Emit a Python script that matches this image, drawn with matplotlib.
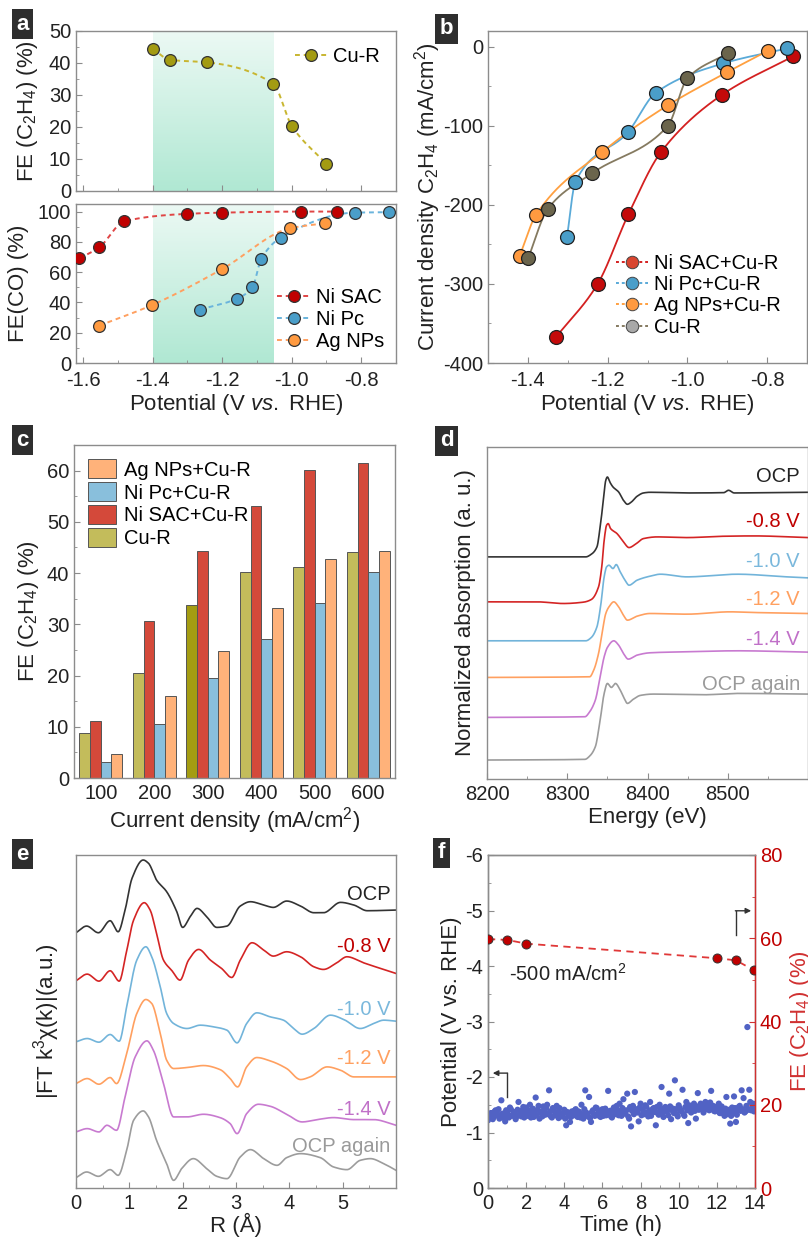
import numpy as np
import matplotlib
matplotlib.use("Agg")
import matplotlib.pyplot as plt
from matplotlib.lines import Line2D
from matplotlib.patches import Patch
from matplotlib.colors import LinearSegmentedColormap
from matplotlib.ticker import MultipleLocator

W, H = 808, 1241

# ── panel a: FE vs potential ────────────────────────────────────────────
a_cur_x = [-1.40, -1.35, -1.243, -1.053, -1.00, -0.90]
a_cur_y = [44.5, 41.0, 40.2, 33.5, 20.4, 8.5]
a_sac_x = [-1.61, -1.553, -1.481, -1.30, -1.20, -0.974, -0.869]
a_sac_y = [69.1, 76.4, 93.6, 98.5, 99.3, 100.0, 100.0]
a_pc_x = [-1.263, -1.158, -1.113, -1.087, -1.031, -0.819, -0.72]
a_pc_y = [35.3, 42.4, 49.9, 68.9, 82.8, 99.3, 99.6]
a_ag_x = [-1.553, -1.402, -1.20, -1.004, -0.903]
a_ag_y = [24.7, 38.2, 62.0, 89.0, 92.3]
shade_range = [-1.40, -1.053]

# ── panel b: partial current density of C2H4 ────────────────────────────
b_sac_x = [-1.329, -1.225, -1.148, -1.066, -0.914, -0.735]
b_sac_y = [-367, -300, -212, -133, -61, -12]
b_pc_x = [-1.302, -1.281, -1.149, -1.079, -0.910, -0.749]
b_pc_y = [-241, -171, -108, -58, -21, -2]
b_ag_x = [-1.421, -1.380, -1.214, -1.049, -0.900, -0.798]
b_ag_y = [-265, -213, -133, -74, -32, -5]
b_cu_x = [-1.399, -1.350, -1.239, -1.049, -1.000, -0.898]
b_cu_y = [-267, -205, -160, -100, -40, -8]

# ── panel c: FE(C2H4) vs current density ────────────────────────────────
c_labels = ["100", "200", "300", "400", "500", "600"]
c_cu = [8.7, 20.5, 33.7, 40.2, 41.1, 44.2]
c_sac = [11.2, 30.7, 44.4, 53.0, 60.2, 61.4]
c_pc = [3.1, 10.5, 19.6, 27.1, 34.2, 40.2]
c_ag = [4.6, 16.0, 24.7, 33.1, 42.7, 44.4]

# ── panel d: XANES (offset curves, a.u.) ────────────────────────────────
d_names = ["OCP", "-0.8 V", "-1.0 V", "-1.2 V", "-1.4 V", "OCP again"]
d_E = [
    [8200, 8323, 8330, 8337, 8341, 8345, 8348, 8350, 8353, 8357, 8364, 8370,
     8375, 8380, 8387, 8395, 8403, 8450, 8495, 8501, 8508, 8550, 8600],
    [8200, 8262, 8295, 8320, 8330, 8339, 8343, 8346, 8349, 8351, 8354, 8362,
     8370, 8377, 8385, 8395, 8412, 8449, 8495, 8532, 8600],
    [8200, 8323, 8330, 8337, 8342, 8346, 8349, 8352, 8357, 8361, 8366, 8372,
     8377, 8387, 8403, 8416, 8449, 8512, 8574, 8600],
    [8200, 8328, 8333, 8339, 8344, 8348, 8352, 8358, 8364, 8370, 8375, 8387,
     8403, 8449, 8503, 8532, 8600],
    [8200, 8322, 8328, 8335, 8341, 8346, 8350, 8358, 8364, 8370, 8376, 8387,
     8403, 8449, 8512, 8600],
    [8200, 8322, 8328, 8335, 8341, 8346, 8350, 8355, 8360, 8366, 8371, 8375,
     8382, 8391, 8407, 8470, 8512, 8600],
]
d_mu = [
    [6.67, 6.67, 6.75, 6.97, 7.57, 8.37, 8.97, 9.07, 8.92, 8.77, 8.62, 8.37,
     8.25, 8.32, 8.49, 8.59, 8.61, 8.59, 8.60, 8.67, 8.59, 8.60, 8.61],
    [5.32, 5.32, 5.27, 5.31, 5.39, 5.77, 6.37, 7.17, 7.62, 7.67, 7.52, 7.37,
     7.12, 6.95, 7.05, 7.22, 7.27, 7.25, 7.29, 7.30, 7.25],
    [4.15, 4.15, 4.25, 4.57, 5.27, 6.07, 6.37, 6.42, 6.32, 6.44, 6.22, 5.97,
     5.82, 5.97, 6.09, 6.15, 6.07, 6.15, 6.07, 6.04],
    [3.05, 3.07, 3.27, 3.77, 4.47, 4.97, 5.17, 5.32, 5.17, 4.92, 4.77, 4.89,
     4.97, 4.95, 5.02, 5.00, 4.97],
    [1.85, 1.87, 2.02, 2.37, 3.07, 3.67, 3.95, 4.15, 4.02, 3.77, 3.60, 3.72,
     3.79, 3.82, 3.85, 3.81],
    [0.57, 0.59, 0.69, 0.97, 1.77, 2.57, 2.87, 2.75, 2.87, 2.67, 2.42, 2.27,
     2.39, 2.51, 2.55, 2.53, 2.57, 2.55],
]

# ── panel e: FT-EXAFS (offset curves, a.u.) ─────────────────────────────
e_R = [
    [0, 0.20, 0.42, 0.64, 0.79, 0.92, 1.05, 1.26, 1.36, 1.51, 1.70, 1.89, 2.00,
     2.14, 2.27, 2.45, 2.64, 2.83, 3.08, 3.27, 3.52, 3.70, 3.95, 4.21, 4.46,
     4.64, 4.96, 5.21, 5.46, 6.0],
    [0, 0.21, 0.43, 0.64, 0.81, 0.94, 1.08, 1.28, 1.39, 1.51, 1.64, 1.80, 1.95,
     2.11, 2.30, 2.52, 2.73, 2.92, 3.08, 3.30, 3.52, 3.70, 3.95, 4.21, 4.46,
     4.64, 4.89, 5.08, 5.39, 6.0],
    [0, 0.21, 0.43, 0.64, 0.81, 0.95, 1.14, 1.31, 1.42, 1.58, 1.70, 1.83, 2.08,
     2.33, 2.58, 2.83, 3.02, 3.20, 3.39, 3.64, 3.89, 4.08, 4.24, 4.46, 4.77,
     5.02, 5.33, 5.58, 5.77, 6.0],
    [0, 0.21, 0.43, 0.64, 0.76, 0.95, 1.14, 1.31, 1.42, 1.58, 1.70, 1.83, 2.08,
     2.39, 2.70, 2.89, 3.03, 3.20, 3.39, 3.64, 3.95, 4.21, 4.39, 4.71, 4.96,
     5.21, 6.0],
    [0, 0.21, 0.43, 0.58, 0.76, 0.92, 1.11, 1.33, 1.45, 1.64, 1.83, 2.08, 2.39,
     2.70, 2.89, 3.02, 3.20, 3.42, 3.64, 3.95, 4.24, 4.52, 4.83, 5.21, 5.58,
     6.0],
    [0, 0.20, 0.42, 0.64, 0.79, 0.95, 1.08, 1.26, 1.36, 1.51, 1.70, 1.83, 1.98,
     2.20, 2.45, 2.64, 2.83, 3.08, 3.27, 3.52, 3.77, 3.95, 4.21, 4.58, 4.83,
     5.08, 5.33, 5.52, 5.77, 6.0],
]
e_ft = [
    [7.65, 7.85, 7.65, 8.01, 7.68, 8.33, 9.28, 9.83, 9.73, 9.23, 8.88, 8.28,
     7.81, 8.13, 8.38, 8.13, 7.81, 7.85, 8.45, 8.58, 8.48, 8.41, 8.60, 8.45,
     8.25, 8.25, 8.56, 8.48, 8.31, 8.33],
    [6.21, 6.41, 6.20, 6.51, 6.20, 7.03, 8.03, 8.55, 8.33, 7.63, 6.83, 6.51,
     6.23, 6.83, 7.15, 6.83, 6.58, 6.31, 6.83, 7.35, 7.13, 6.95, 7.08, 6.93,
     6.63, 6.55, 6.75, 6.93, 6.75, 6.43],
    [4.38, 4.48, 4.37, 4.60, 4.40, 5.43, 6.83, 7.23, 6.93, 6.03, 5.23, 4.93,
     4.78, 4.88, 4.83, 4.73, 4.35, 4.93, 5.25, 5.13, 5.03, 4.78, 4.61, 4.78,
     5.18, 5.05, 4.78, 4.93, 5.03, 5.00],
    [3.13, 3.28, 3.11, 3.31, 3.13, 4.03, 5.23, 5.65, 5.53, 4.63, 3.83, 3.58,
     3.61, 3.67, 3.55, 3.28, 3.03, 3.63, 3.91, 3.81, 3.58, 3.25, 3.33, 3.63,
     3.53, 3.33, 3.33],
    [1.68, 1.78, 1.68, 1.88, 1.73, 2.73, 3.93, 4.41, 4.13, 3.13, 2.13, 2.13,
     2.21, 2.11, 1.93, 1.63, 2.23, 2.51, 2.45, 2.21, 1.98, 2.05, 2.11, 2.05,
     2.05, 1.88],
    [0.31, 0.48, 0.35, 0.55, 0.38, 1.13, 2.03, 2.31, 2.13, 1.43, 0.73, 0.23,
     0.58, 0.88, 0.58, 0.35, 0.28, 0.93, 1.15, 0.88, 0.68, 0.91, 1.03, 0.91,
     0.63, 0.55, 0.83, 0.88, 0.73, 0.53],
]

# ── panel f: stability ──────────────────────────────────────────────────
f_fe_t = [0.0, 1.01, 2.01, 11.99, 13.0, 13.95]
f_fe = [59.8, 59.6, 58.7, 55.2, 54.7, 52.3]
# potential, one reading every 0.1 h
f_pot_a = [
    -1.22, -1.30, -1.35, -1.28, -1.40, -1.33, -1.25, -1.58, -1.30, -1.20,
    -1.38, -1.27, -1.42, -1.31, -1.36, -1.29, -1.55, -1.34, -1.40, -1.27,
    -1.45, -1.33, -1.50, -1.36, -1.28, -1.63, -1.41, -1.25, -1.38, -1.47,
    -1.32, -1.50, -1.76, -1.29, -1.44, -1.37, -1.48, -1.26, -1.35, -1.30,
    -1.41, -1.13, -1.34, -1.19, -1.38, -1.31, -1.42, -1.28, -1.36, -1.50,
    -1.25, -1.76, -1.33, -1.64, -1.19, -1.40, -1.30, -1.44, -1.36, -1.28,
    -1.42, -1.35, -1.31, -1.75, -1.39, -1.27, -1.45, -1.33, -1.40, -1.52,
    -1.30, -1.60, -1.36, -1.70, -1.25, -1.11, -1.48, -1.73, -1.38, -1.20,
    -1.52, -1.42, -1.33, -1.47, -1.29, -1.55, -1.37, -1.44, -1.13, -1.35,
    -1.50, -1.82, -1.28, -1.46, -1.39, -1.70, -1.24, -1.43, -1.94, -1.33,
    -1.49, -1.40, -1.77, -1.30, -1.55, -1.17, -1.45, -1.38, -1.52, -1.25,
    -1.71, -1.42, -1.50, -1.36, -1.55, -1.46, -1.40, -1.75, -1.48, -1.38,
    -1.44, -1.52, -1.35, -1.41, -1.30, -1.64, -1.37, -1.16, -1.45, -1.65,
    -1.19, -1.40, -1.48, -1.76, -1.62, -1.38, -2.90, -1.77, -1.40, -1.52,
]
# potential, readings in between (t + 0.05 h)
f_pot_b = [
    -1.28, -1.35, -1.24, -1.38, -1.31, -1.42, -1.29, -1.34, -1.26, -1.40,
    -1.33, -1.45, -1.30, -1.37, -1.24, -1.41, -1.32, -1.29, -1.46, -1.35,
    -1.30, -1.39, -1.27, -1.43, -1.34, -1.31, -1.48, -1.36, -1.29, -1.40,
    -1.45, -1.33, -1.38, -1.27, -1.42, -1.31, -1.36, -1.44, -1.29, -1.34,
    -1.25, -1.37, -1.30, -1.28, -1.35, -1.40, -1.32, -1.38, -1.27, -1.33,
    -1.42, -1.36, -1.29, -1.26, -1.37, -1.33, -1.45, -1.31, -1.39, -1.35,
    -1.30, -1.43, -1.38, -1.33, -1.29, -1.41, -1.36, -1.48, -1.31, -1.37,
    -1.44, -1.34, -1.40, -1.29, -1.46, -1.39, -1.33, -1.42, -1.36, -1.45,
    -1.31, -1.38, -1.49, -1.35, -1.40, -1.30, -1.43, -1.37, -1.46, -1.32,
    -1.41, -1.36, -1.44, -1.38, -1.31, -1.47, -1.40, -1.35, -1.42, -1.29,
    -1.44, -1.38, -1.33, -1.46, -1.40, -1.49, -1.36, -1.43, -1.39, -1.47,
    -1.41, -1.52, -1.45, -1.50, -1.42, -1.48, -1.54, -1.44, -1.39, -1.46,
    -1.40, -1.35, -1.47, -1.38, -1.43, -1.33, -1.41, -1.30, -1.37, -1.44,
    -1.32, -1.46, -1.39, -1.42, -1.36, -1.48, -1.41, -1.55, -1.45, -1.38,
]
f_t_a = np.arange(len(f_pot_a)) * 0.1
f_t_b = np.arange(len(f_pot_b)) * 0.1 + 0.05

# ── style ───────────────────────────────────────────────────────────────
SPINE = "#8c8c8c"
TXT = "#222222"
plt.rcParams.update({
    "font.family": ["Liberation Sans", "DejaVu Sans"],
    "font.size": 14.5,
    "axes.unicode_minus": False,
    "axes.edgecolor": SPINE,
    "axes.linewidth": 1.0,
    "axes.labelsize": 16,
    "axes.labelcolor": TXT,
    "xtick.direction": "in", "ytick.direction": "in",
    "xtick.color": SPINE, "ytick.color": SPINE,
    "xtick.labelcolor": TXT, "ytick.labelcolor": TXT,
    "xtick.labelsize": 14.5, "ytick.labelsize": 14.5,
    "xtick.major.size": 4, "ytick.major.size": 4,
    "xtick.minor.size": 2.5, "ytick.minor.size": 2.5,
    "xtick.major.pad": 4.5,
    "legend.fontsize": 14.5,
    "legend.frameon": False,
    "mathtext.fontset": "custom",
    "mathtext.rm": "Liberation Sans",
    "mathtext.it": "Liberation Sans:italic",
    "mathtext.default": "regular",
})


def pchip(x, y, n=300):
    x = np.asarray(x, float); y = np.asarray(y, float)
    h = np.diff(x); d = np.diff(y) / h
    m = np.zeros_like(y)
    for k in range(1, len(x) - 1):
        if d[k - 1] * d[k] > 0:
            w1 = 2 * h[k] + h[k - 1]; w2 = h[k] + 2 * h[k - 1]
            m[k] = (w1 + w2) / (w1 / d[k - 1] + w2 / d[k])
    m[0] = d[0]; m[-1] = d[-1]
    xs = np.linspace(x[0], x[-1], n)
    i = np.clip(np.searchsorted(x, xs) - 1, 0, len(h) - 1)
    t = (xs - x[i]) / h[i]
    ys = ((2*t**3 - 3*t**2 + 1) * y[i] + (t**3 - 2*t**2 + t) * h[i] * m[i]
          + (-2*t**3 + 3*t**2) * y[i + 1] + (t**3 - t**2) * h[i] * m[i + 1])
    return xs, ys


def add_ax(fig, x0, y0, x1, y1):
    return fig.add_axes([x0 / W, 1 - y1 / H, (x1 - x0) / W, (y1 - y0) / H])


def panel_tag(fig, x, y, s):
    fig.text(x / W, 1 - y / H, s, color="white", weight="bold", fontsize=16,
             ha="center", va="center",
             bbox=dict(boxstyle="square,pad=0.2", fc="#2e2e2e", ec="none"))


def shade(ax, x0, x1, y0, y1):
    cmap = LinearSegmentedColormap.from_list("sh", ["#b0e8d3", "#ecf9f4"])
    grad = np.linspace(0, 1, 100).reshape(-1, 1)
    ax.imshow(grad, extent=[x0, x1, y0, y1], origin="lower", aspect="auto",
              cmap=cmap, zorder=0)


fig = plt.figure(figsize=(W / 100, H / 100), dpi=100)

# ── a ───────────────────────────────────────────────────────────────────
CU_A, SAC_A, PC_A, AG_A = "#a39b12", "#c00000", "#4a9ec9", "#ff9a40"
axa1 = add_ax(fig, 76, 31, 396, 191)
axa2 = add_ax(fig, 76, 204, 396, 363)
shade(axa1, *shade_range, 0, 50)
shade(axa2, *shade_range, 0, 105)
mk = dict(marker="o", ms=8.5, mec="#333", mew=0.9, ls="none", zorder=3)
for ax, xs, ys, fc, lc, lab in [
        (axa1, a_cur_x, a_cur_y, CU_A, "#c8b630", "Cu-R"),
        (axa2, a_sac_x, a_sac_y, SAC_A, "#e04545", "Ni SAC"),
        (axa2, a_pc_x, a_pc_y, PC_A, "#6ab4dc", "Ni Pc"),
        (axa2, a_ag_x, a_ag_y, AG_A, "#ffa060", "Ag NPs")]:
    sx, sy = pchip(xs, ys)
    ax.plot(sx, sy, color=lc, ls=(0, (2.5, 2)), lw=1.4, zorder=2)
    ax.plot(xs, ys, mfc=fc, **mk)
    ax.plot([], [], color=lc, ls=(0, (2.5, 2)), lw=1.4, marker="o", ms=8.5,
            mfc=fc, mec="#333", mew=0.9, label=lab)
axa1.set_ylim(0, 50)
axa2.set_ylim(0, 105)
for ax in (axa1, axa2):
    ax.set_xlim(-1.62, -0.70)
    ax.xaxis.set_major_locator(MultipleLocator(0.2))
    ax.xaxis.set_minor_locator(MultipleLocator(0.1))
    ax.tick_params(top=False, right=False)
axa1.yaxis.set_major_locator(MultipleLocator(10))
axa1.yaxis.set_minor_locator(MultipleLocator(5))
axa2.yaxis.set_major_locator(MultipleLocator(20))
axa2.yaxis.set_minor_locator(MultipleLocator(10))
axa1.tick_params(axis="x", which="both", labelbottom=False)
axa2.tick_params(axis="x", pad=6)
axa1.set_ylabel("FE (C$_2$H$_4$) (%)", labelpad=6)
axa2.set_ylabel("FE(CO) (%)", labelpad=6)
axa2.set_xlabel("Potential (V $\\mathit{vs.}$ RHE)", labelpad=1)
axa1.legend(loc="upper right", handlelength=1.6, handletextpad=0.3,
            borderaxespad=0.4)
axa2.legend(loc="lower right", handlelength=1.6, handletextpad=0.3,
            labelspacing=0.15, borderaxespad=0.2)

# ── b ───────────────────────────────────────────────────────────────────
axb = add_ax(fig, 488, 31, 807, 363)
b_sets = [
    (b_sac_x, b_sac_y, "#c40a0a", "#d42020", "#d9452f", "Ni SAC+Cu-R"),
    (b_pc_x, b_pc_y, "#4a9ec9", "#5aaad8", "#4a9ec9", "Ni Pc+Cu-R"),
    (b_ag_x, b_ag_y, "#ff9a40", "#ffa040", "#ff9a40", "Ag NPs+Cu-R"),
    (b_cu_x, b_cu_y, "#6b654c", "#857a60", "#a8a8a8", "Cu-R"),
]
handles = []
for xs, ys, fc, lc, legc, lab in b_sets:
    sx, sy = pchip(xs, ys)
    axb.plot(sx, sy, color=lc, lw=1.3, zorder=2)
    axb.plot(xs, ys, marker="o", ms=10, mfc=fc, mec="#222", mew=0.9,
             ls="none", zorder=3)
    handles.append(Line2D([], [], color=lc, ls=(0, (1.5, 1.5)), lw=1.4,
                          marker="o", ms=9, mfc=legc, mec="#444", mew=0.7,
                          label=lab))
axb.set_xlim(-1.5, -0.7)
axb.set_ylim(-400, 20)
axb.xaxis.set_major_locator(MultipleLocator(0.2))
axb.xaxis.set_minor_locator(MultipleLocator(0.1))
axb.yaxis.set_major_locator(MultipleLocator(100))
axb.yaxis.set_minor_locator(MultipleLocator(50))
axb.tick_params(axis="x", pad=6)
axb.set_xlabel("Potential (V $\\mathit{vs.}$ RHE)", labelpad=1)
axb.set_ylabel("Current density C$_2$H$_4$ (mA/cm$^2$)", labelpad=0)
axb.legend(handles=handles, loc="lower right", handlelength=1.6,
           handletextpad=0.3, labelspacing=0.12, borderaxespad=0.9)

# ── c ───────────────────────────────────────────────────────────────────
axc = add_ax(fig, 74, 445, 395, 778)
xi = np.arange(len(c_labels))
bw = 0.2
cu_cols = ["#c3bc5b", "#c3bc5b", "#a49c12", "#c3bc5b", "#c3bc5b", "#c3bc5b"]
bar_kw = dict(width=bw, edgecolor="#555", linewidth=0.7)
axc.bar(xi - 1.5 * bw, c_cu, color=cu_cols, **bar_kw)
axc.bar(xi - 0.5 * bw, c_sac, color="#d4493a", **bar_kw)
axc.bar(xi + 0.5 * bw, c_pc, color="#89bfdc", **bar_kw)
axc.bar(xi + 1.5 * bw, c_ag, color="#ffb27a", **bar_kw)
axc.set_xlim(-0.5, 5.5)
axc.set_ylim(0, 65)
axc.set_xticks(xi)
axc.set_xticklabels(c_labels)
axc.tick_params(axis="x", length=0)
axc.yaxis.set_major_locator(MultipleLocator(10))
axc.yaxis.set_minor_locator(MultipleLocator(5))
axc.set_ylabel("FE (C$_2$H$_4$) (%)", labelpad=4)
axc.set_xlabel("Current density (mA/cm$^2$)", labelpad=1)
c_handles = [Patch(fc="#ffb27a", ec="#555", lw=0.7, label="Ag NPs+Cu-R"),
             Patch(fc="#89bfdc", ec="#555", lw=0.7, label="Ni Pc+Cu-R"),
             Patch(fc="#d4493a", ec="#555", lw=0.7, label="Ni SAC+Cu-R"),
             Patch(fc="#c3bc5b", ec="#555", lw=0.7, label="Cu-R")]
axc.legend(handles=c_handles, loc="upper left", handlelength=1.4,
           handleheight=1.1, handletextpad=0.4, labelspacing=0.12,
           borderaxespad=0.3)

# ── d ───────────────────────────────────────────────────────────────────
curve_cols = ["#333333", "#d42424", "#72b4da", "#ffa060", "#c87ad0", "#9c9c9c"]
label_cols = ["#222222", "#c00000", "#7ab8dc", "#ffa060", "#c070c8", "#9a9a9a"]
axd = add_ax(fig, 487, 447, 808, 779)
for E, mu, c in zip(d_E, d_mu, curve_cols):
    sx, sy = pchip(E, mu, n=600)
    axd.plot(sx, sy, color=c, lw=1.2)
d_lab_y = [9.09, 7.72, 6.52, 5.39, 4.19, 2.85]
for name, yy, c in zip(d_names, d_lab_y, label_cols):
    axd.text(8590, yy, name, color=c, ha="right", va="center", fontsize=14.5)
axd.set_xlim(8200, 8600)
axd.set_ylim(0, 9.97)
axd.set_yticks([])
axd.xaxis.set_minor_locator(MultipleLocator(50))
axd.set_xticks([8200, 8300, 8400, 8500])
axd.set_xlabel("Energy (eV)", labelpad=2)
axd.set_ylabel("Normalized absorption (a. u.)", labelpad=8)

# ── e ───────────────────────────────────────────────────────────────────
axe = add_ax(fig, 76, 855, 396, 1188)
for R, ft, c in zip(e_R, e_ft, curve_cols):
    sx, sy = pchip(R, ft, n=600)
    axe.plot(sx, sy, color=c, lw=1.2)
e_lab_y = [8.81, 7.25, 5.35, 3.88, 2.35, 1.25]
for name, yy, c in zip(d_names, e_lab_y, label_cols):
    axe.text(5.9, yy, name, color=c, ha="right", va="center", fontsize=14.5)
axe.set_xlim(0, 6)
axe.set_ylim(0, 9.98)
axe.set_yticks([])
axe.set_xticks([0, 1, 2, 3, 4, 5])
axe.xaxis.set_minor_locator(MultipleLocator(0.5))
axe.set_xlabel("R (Å)", labelpad=0)
axe.set_ylabel("|FT k$^3$χ(k)|(a.u.)", labelpad=10)

# ── f ───────────────────────────────────────────────────────────────────
RED = "#c00000"
axf = add_ax(fig, 488, 855, 755, 1188)
axf.scatter(np.concatenate([f_t_a, f_t_b]), f_pot_a + f_pot_b, s=20,
            color="#5162c4", edgecolors="none", zorder=3)
axf.set_xlim(0, 14)
axf.set_ylim(0, -6)
axf.xaxis.set_major_locator(MultipleLocator(2))
axf.xaxis.set_minor_locator(MultipleLocator(1))
axf.yaxis.set_major_locator(MultipleLocator(1))
axf.yaxis.set_minor_locator(MultipleLocator(0.5))
axf.tick_params(right=False)
axf.set_xlabel("Time (h)", labelpad=1)
axf.set_ylabel("Potential (V vs. RHE)", labelpad=2)
axf.text(1.1, -3.86, "-500 mA/cm$^2$", fontsize=14.5, color=TXT,
         va="center", ha="left")
axf.plot([1.0, 1.0], [-1.64, -2.07], color="#333", lw=1.0)
axf.annotate("", xy=(0.25, -2.07), xytext=(1.02, -2.07),
             arrowprops=dict(arrowstyle="-|>", color="#333", lw=1.0,
                             mutation_scale=8, shrinkA=0, shrinkB=0))
axf2 = axf.twinx()
axf2.plot(f_fe_t, f_fe, color="#e03838", ls=(0, (4, 3)), lw=1.3, zorder=2)
axf2.plot(f_fe_t, f_fe, marker="o", ms=6.5, mfc="#c00000", mec="#333",
          mew=0.7, ls="none", zorder=3)
axf2.plot([12.99, 12.99], [60.8, 66.6], color="#333", lw=1.0)
axf2.annotate("", xy=(13.8, 66.6), xytext=(12.97, 66.6),
              arrowprops=dict(arrowstyle="-|>", color="#333", lw=1.0,
                              mutation_scale=8, shrinkA=0, shrinkB=0))
axf2.set_ylim(0, 80)
axf2.yaxis.set_major_locator(MultipleLocator(20))
axf2.yaxis.set_minor_locator(MultipleLocator(10))
axf2.spines["right"].set_color("#d03030")
axf2.tick_params(axis="y", which="both", colors="#d03030", labelcolor=RED)
axf2.set_ylabel("FE (C$_2$H$_4$) (%)", color="#d03030", labelpad=4)

# ── panel tags ──────────────────────────────────────────────────────────
for x, y, s in [(22.5, 24, "a"), (446.5, 29, "b"), (22.5, 440, "c"),
                (446.5, 441, "d"), (22.5, 854, "e"), (441.5, 853, "f")]:
    panel_tag(fig, x, y, s)

fig.savefig("out.png", dpi=100)
